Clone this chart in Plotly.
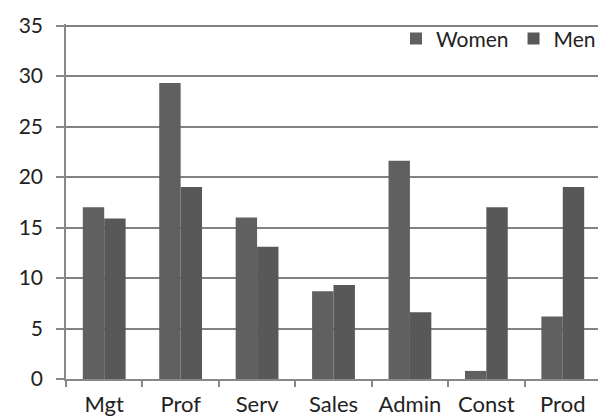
import plotly.graph_objects as go

categories = ["Mgt", "Prof", "Serv", "Sales", "Admin", "Const", "Prod"]
women = [17.0, 29.3, 16.0, 8.7, 21.6, 0.8, 6.2]
men = [15.9, 19.0, 13.1, 9.3, 6.6, 17.0, 19.0]
y_ticks = [0, 5, 10, 15, 20, 25, 30, 35]

fig = go.Figure()
fig.add_trace(go.Bar(name="Women", x=categories, y=women,
                     marker=dict(color="#606060", line=dict(width=0))))
fig.add_trace(go.Bar(name="Men", x=categories, y=men,
                     marker=dict(color="#585858", line=dict(width=0))))

family = "Lato, 'Open Sans', sans-serif"
yfont = dict(family=family, size=21, color="#222222")
xfont = dict(family=family, size=22, color="#222222")

fig.update_layout(
    width=606, height=419,
    margin=dict(l=58, r=13, t=16, b=48, autoexpand=False),
    paper_bgcolor="white", plot_bgcolor="white",
    barmode="group", bargap=0.44, bargroupgap=0,
    font=xfont,
    showlegend=True,
    legend=dict(orientation="h", x=1.0, xanchor="right", y=0.958, yanchor="middle",
                font=dict(family=family, size=21, color="#222222"), bgcolor="rgba(0,0,0,0)",
                itemwidth=30, tracegroupgap=0),
)
fig.update_xaxes(
    type="category", showgrid=False, showline=True, linecolor="#888888", linewidth=1.5,
    ticks="outside", tickson="boundaries", ticklen=6, tickcolor="#888888", tickwidth=1.5,
    tickfont=xfont, fixedrange=True, automargin=False, ticklabelstandoff=5,
)
fig.update_yaxes(
    range=[0, 35.15], tickvals=y_ticks, showgrid=True, gridcolor="#828282", gridwidth=1.5,
    showline=True, linecolor="#888888", linewidth=1.5,
    ticks="outside", ticklen=8, tickcolor="#888888", tickwidth=1.5,
    tickfont=yfont, zeroline=False, fixedrange=True, automargin=False,
    ticklabelstandoff=9,
)

fig.write_html("out.html")
